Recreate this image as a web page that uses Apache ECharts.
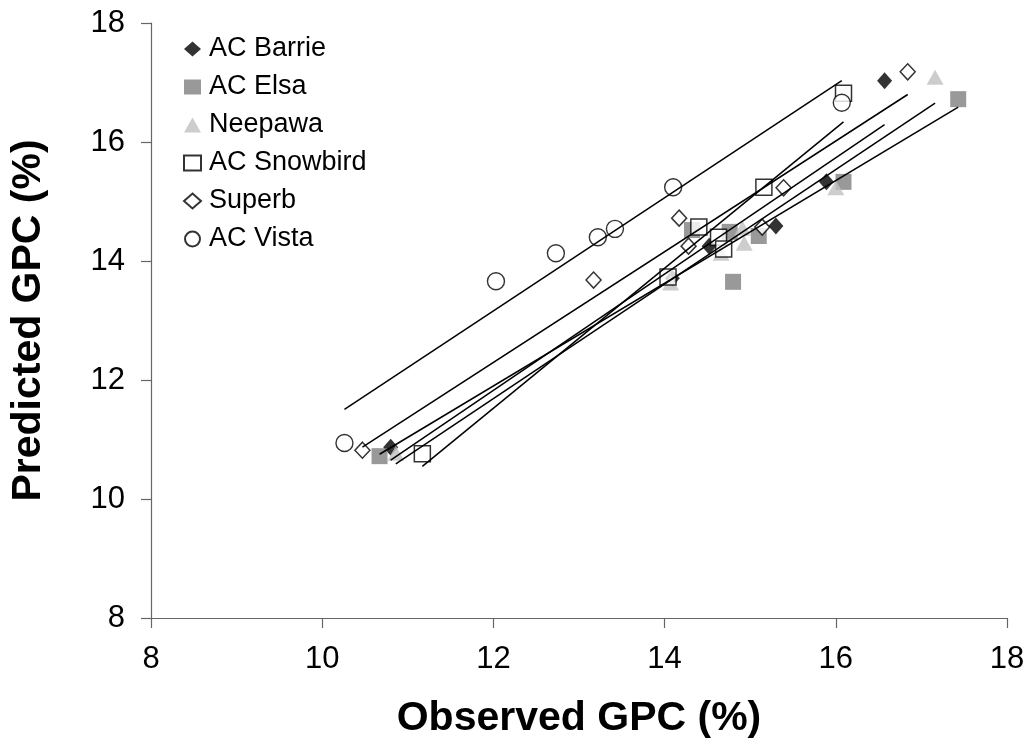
<!DOCTYPE html>
<html>
<head>
<meta charset="utf-8">
<script src="https://cdn.jsdelivr.net/npm/echarts@6/dist/echarts.min.js"></script>
<style>
  html, body { margin: 0; padding: 0; background: #fff; }
  #chart { width: 1031px; height: 750px; }
</style>
</head>
<body>
<div id="chart"></div>
<script>
// Observed vs predicted grain protein concentration (%) per cultivar
const seriesNames = ['AC Barrie', 'AC Elsa', 'Neepawa', 'AC Snowbird', 'Superb', 'AC Vista'];

const barrieObs = [10.80, 14.09, 14.52, 15.30, 15.89, 16.57];
const barriePred = [10.87, 13.71, 14.25, 14.59, 15.33, 17.03];

const elsaObs = [10.67, 14.32, 14.76, 14.80, 15.10, 16.09, 17.43];
const elsaPred = [10.72, 14.52, 14.49, 13.65, 14.42, 15.33, 16.72];

const neepawaObs = [10.86, 14.07, 14.66, 14.91, 14.93, 16.00, 17.16];
const neepawaPred = [10.77, 13.63, 14.13, 14.55, 14.30, 15.23, 17.09];

const snowbirdObs = [11.17, 14.04, 14.40, 14.63, 14.69, 15.16, 16.09];
const snowbirdPred = [10.76, 13.73, 14.57, 14.40, 14.20, 15.24, 16.82];

const superbObs = [10.47, 13.17, 14.17, 14.28, 15.14, 15.39, 16.84];
const superbPred = [10.82, 13.68, 14.72, 14.25, 14.57, 15.23, 17.18];

const vistaObs = [10.26, 12.03, 12.73, 13.22, 13.42, 14.10, 16.07];
const vistaPred = [10.94, 13.66, 14.13, 14.40, 14.54, 15.24, 16.66];

const axisTicks = [8, 10, 12, 14, 16, 18];

const obsLists = [barrieObs, elsaObs, neepawaObs, snowbirdObs, superbObs, vistaObs];
const predLists = [barriePred, elsaPred, neepawaPred, snowbirdPred, superbPred, vistaPred];

const markerStyles = [
  { symbol: 'diamond', size: [15, 17], itemStyle: { color: '#000000' } },
  { symbol: 'rect', size: 16, itemStyle: { color: '#808080' } },
  { symbol: 'triangle', size: [17, 15], itemStyle: { color: '#c0c0c0' } },
  { symbol: 'rect', size: 16, itemStyle: { color: '#ffffff', borderColor: '#000000', borderWidth: 1.5 } },
  { symbol: 'diamond', size: [15, 16], itemStyle: { color: '#ffffff', borderColor: '#000000', borderWidth: 1.5 } },
  { symbol: 'circle', size: 17, itemStyle: { color: '#ffffff', borderColor: '#000000', borderWidth: 1.4 } }
];

function pairs(xs, ys) {
  return xs.map((x, i) => [x, ys[i]]);
}

// least-squares line across the observed range of one cultivar
function fitLine(xs, ys) {
  const n = xs.length;
  const mx = xs.reduce((a, b) => a + b, 0) / n;
  const my = ys.reduce((a, b) => a + b, 0) / n;
  let sxy = 0, sxx = 0;
  for (let i = 0; i < n; i++) {
    sxy += (xs[i] - mx) * (ys[i] - my);
    sxx += (xs[i] - mx) * (xs[i] - mx);
  }
  const slope = sxy / sxx;
  const icpt = my - slope * mx;
  const x0 = Math.min(...xs), x1 = Math.max(...xs);
  return [[x0, icpt + slope * x0], [x1, icpt + slope * x1]];
}

const font = '"Liberation Sans", Arial, sans-serif';

const scatterSeries = seriesNames.map((name, i) => ({
  name: name,
  type: 'scatter',
  symbol: markerStyles[i].symbol,
  symbolSize: markerStyles[i].size,
  itemStyle: markerStyles[i].itemStyle,
  data: pairs(obsLists[i], predLists[i]),
  z: 2,
  emphasis: { disabled: true },
  animation: false
}));

const trendSeries = seriesNames.map((name, i) => ({
  name: name + ' fit',
  type: 'line',
  data: fitLine(obsLists[i], predLists[i]),
  showSymbol: false,
  symbol: 'none',
  lineStyle: { color: '#000000', width: 1.5 },
  z: 3,
  silent: true,
  animation: false
}));

const axisCommon = {
  type: 'value',
  min: axisTicks[0],
  max: axisTicks[axisTicks.length - 1],
  interval: 2,
  splitLine: { show: false },
  axisLine: { show: true, onZero: false, lineStyle: { color: '#666666', width: 1.2 } },
  axisTick: { show: true, length: 10, lineStyle: { color: '#666666', width: 1.2 } },
  axisLabel: { color: '#000000', fontSize: 31, fontFamily: font },
  nameLocation: 'middle',
  nameTextStyle: { color: '#000000', fontSize: 41, fontWeight: 'bold', fontFamily: font }
};

const chart = echarts.init(document.getElementById('chart'), null, { renderer: 'canvas' });
chart.setOption({
  backgroundColor: '#ffffff',
  animation: false,
  grid: { left: 149, right: 24, top: 23, bottom: 132, containLabel: false },
  legend: {
    data: seriesNames,
    orient: 'vertical',
    left: 178,
    top: 29,
    itemWidth: 17,
    itemHeight: 15,
    itemGap: 8,
    textStyle: { color: '#000000', fontSize: 27, fontFamily: font, lineHeight: 30, padding: [0, 0, 0, 3] },
    selectedMode: false
  },
  xAxis: Object.assign({}, axisCommon, {
    name: 'Observed GPC (%)',
    nameGap: 80,
    axisLabel: Object.assign({}, axisCommon.axisLabel, { margin: 26 })
  }),
  yAxis: Object.assign({}, axisCommon, {
    name: 'Predicted GPC (%)',
    nameGap: 102,
    nameRotate: 90,
    axisLabel: Object.assign({}, axisCommon.axisLabel, { margin: 26 })
  }),
  series: scatterSeries.concat(trendSeries)
});
</script>
</body>
</html>
